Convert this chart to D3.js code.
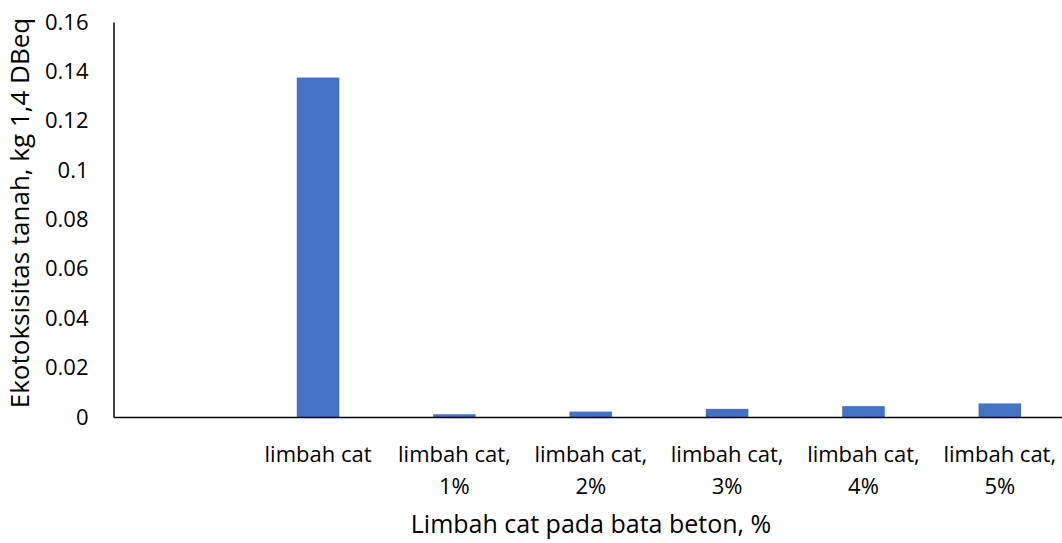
<!DOCTYPE html>
<html><head><meta charset="utf-8">
<script src="https://cdn.jsdelivr.net/npm/d3@7"></script>
<style>body{margin:0;background:#fff}svg{display:block}text{font-family:"Open Sans",sans-serif;fill:#000}</style>
</head><body><svg id="c" width="1062" height="543"></svg>
<script>
const categories = ["", "limbah cat", "limbah cat, 1%", "limbah cat, 2%", "limbah cat, 3%", "limbah cat, 4%", "limbah cat, 5%"];
const values = [null, 0.1375, 0.0011, 0.0022, 0.0033, 0.0044, 0.0055];
const yTicks = [0, 0.02, 0.04, 0.06, 0.08, 0.1, 0.12, 0.14, 0.16];
const yTitle = "Ekotoksisitas tanah, kg 1,4 DBeq";
const xTitle = "Limbah cat pada bata beton, %";

const svg = d3.select("#c");
const x0 = 113.5, x1 = 1068, yTop = 22, yBot = 417;
const x = d3.scaleBand().domain(categories.map((c,i)=>i)).range([x0, x1]).paddingInner(0.688).paddingOuter(0.344);
const y = d3.scaleLinear().domain([0, 0.16]).range([yBot, yTop]);

svg.selectAll("rect.bar").data(values.map((v,i)=>({v,i})).filter(d=>d.v!=null)).enter()
  .append("rect").attr("class","bar")
  .attr("x", d=>x(d.i)).attr("width", x.bandwidth())
  .attr("y", d=>y(d.v)).attr("height", d=>yBot - y(d.v))
  .attr("fill", "#4472C4");

const yAxis = d3.axisLeft(y).tickValues(yTicks).tickSize(0).tickPadding(0).tickFormat(d=>String(d));
const gy = svg.append("g").attr("transform", `translate(${x0},0)`).call(yAxis);
gy.select(".domain").attr("stroke","#000").attr("stroke-width",1.5);
gy.selectAll("text").attr("x", -25).attr("font-size", 22).attr("font-family","Open Sans").attr("fill","#000");

const xAxis = d3.axisBottom(x).tickSize(0).tickFormat(()=>"");
const gx = svg.append("g").attr("transform", `translate(0,${yBot})`).call(xAxis);
gx.select(".domain").attr("stroke","#000").attr("stroke-width",1.5);
gx.selectAll(".tick").each(function(d){
  const lab = categories[d];
  if(!lab) return;
  const parts = lab.indexOf(",")>=0 ? [lab.slice(0, lab.indexOf(",")+1), lab.slice(lab.indexOf(",")+1).trim()] : [lab];
  const t = d3.select(this).append("text").attr("text-anchor","middle").attr("font-size",22);
  parts.forEach((p,k)=> t.append("tspan").attr("x",0).attr("y", 44.5 + k*32).text(p));
});

svg.append("text").attr("x", 591).attr("y", 533).attr("text-anchor","middle").attr("font-size",25).text(xTitle);
svg.append("text").attr("transform","translate(29,213) rotate(-90)").attr("text-anchor","middle").attr("font-size",26).text(yTitle);
</script></body></html>
